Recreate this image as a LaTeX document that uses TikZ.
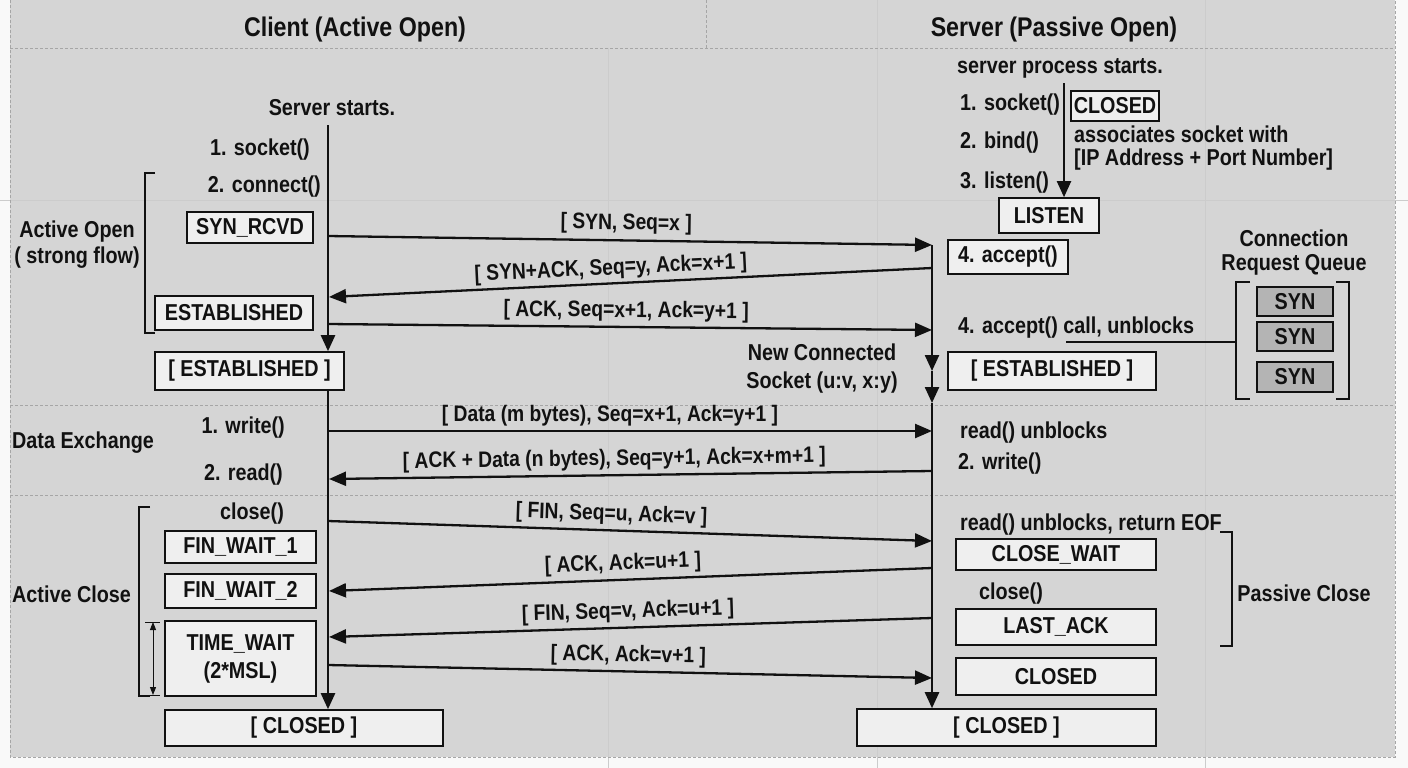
\documentclass[tikz,border=0pt]{standalone}
\usepackage{fontspec}
\setmainfont{Liberation Sans}[FakeStretch=0.86]
\usetikzlibrary{arrows.meta}
\definecolor{panel}{HTML}{D5D5D5}
\definecolor{boxfill}{HTML}{EFEFEF}
\definecolor{synfill}{HTML}{B4B4B4}
\definecolor{dashc}{HTML}{A6A6A6}
\definecolor{gridc}{HTML}{CCCCCC}
\definecolor{ink}{HTML}{111111}
\tikzset{
  txt/.style={font=\fontsize{23}{26}\selectfont\bfseries, inner sep=0pt, text=ink},
  ttl/.style={font=\fontsize{27}{30}\selectfont\bfseries, inner sep=0pt, text=ink},
  lbl/.style={font=\fontsize{22.4}{24}\selectfont\bfseries, inner sep=0pt, text=ink},
  stbox/.style={draw=ink, line width=1.6pt, fill=boxfill, txt, inner sep=0pt},
  synbox/.style={draw=ink, line width=1.6pt, fill=synfill, txt, inner sep=0pt, minimum width=76pt},
  msg/.style={line width=2.3pt, draw=ink, -{Triangle[length=17pt,width=14pt]}},
  life/.style={line width=2.4pt, draw=ink, -{Triangle[length=16pt,width=14pt]}},
  brk/.style={line width=1.6pt, draw=ink},
  sect/.style={dashc, line width=0.8pt, dash pattern=on 3pt off 2pt},
}
\begin{document}
\begin{tikzpicture}[x=1pt,y=-1pt]
\useasboundingbox (0,0) rectangle (1408,768);
% background
\fill[white!95!gray] (0,0) rectangle (1408,768);
\fill[panel] (10,0) rectangle (1395,757);
\draw[gridc, line width=0.8pt] (608,48) -- (608,768) (877,0) -- (877,768) (1205,0) -- (1205,768);
\draw[gridc, line width=0.8pt] (0,200) -- (1408,200);
\draw[sect] (10,0) -- (10,757) -- (1395,757) -- (1395,0);
\draw[sect] (10,48) -- (1395,48);
\draw[sect] (706,0) -- (706,48);
\draw[sect] (10,405) -- (1395,405);
\draw[sect] (10,495) -- (1395,495);

% titles
\node[ttl] (tcl) at (355,30) {Client (Active Open)};
\node[ttl] (tsv) at (1054,30) {Server (Passive Open)};

% ---------- client side ----------
\node[txt] (sstart) at (332,108) {Server starts.};
\node[txt, anchor=east] (csock) at (310,150) {1. socket()};
\node[txt, anchor=east] (cconn) at (321,187) {2. connect()};
\node[stbox, minimum width=126pt, minimum height=31pt] (synrcvd) at (250,227.5) {SYN\_RCVD};
\node[stbox, minimum width=158pt, minimum height=34pt] (est1) at (234,313) {ESTABLISHED};
\node[stbox, minimum width=189pt, minimum height=38pt] (estC) at (249.5,371) {[ ESTABLISHED ]};
\node[txt, align=center] (aopen) at (77,245) {Active Open\\( strong flow)};
\draw[brk] (155,173) -- (145,173) -- (145,333) -- (155,333);

\node[txt, anchor=west] (dex) at (12,443) {Data Exchange};
\node[txt, anchor=east] (cwrite) at (285,428) {1. write()};
\node[txt, anchor=east] (cread) at (283,475) {2. read()};

\node[txt] (cclose) at (252,514) {close()};
\node[stbox, minimum width=151pt, minimum height=32pt] (fw1) at (240.5,547) {FIN\_WAIT\_1};
\node[stbox, minimum width=151pt, minimum height=34pt] (fw2) at (240.5,591) {FIN\_WAIT\_2};
\node[stbox, minimum width=151pt, minimum height=75pt, align=center, font=\fontsize{23}{28}\selectfont\bfseries] (tw) at (240.5,658.5) {TIME\_WAIT\\(2*MSL)};
\node[stbox, minimum width=278pt, minimum height=36pt] (closedC) at (304,728) {[ CLOSED ]};
\node[txt, anchor=west] (aclose) at (12,594) {Active Close};
\draw[brk] (150,507) -- (139,507) -- (139,696) -- (150,696);
\draw[line width=1pt, ink] (145,622) -- (160,622) (145,695) -- (160,695);
\draw[line width=1pt, ink, {Triangle[length=8pt,width=6pt]}-{Triangle[length=8pt,width=6pt]}] (153,622) -- (153,695);

% client lifeline
\coordinate (cl0) at (328,125);
\draw[life] (cl0) -- (estC.north -| cl0);
\draw[life] (estC.south -| cl0) -- (closedC.north -| cl0);

% ---------- server side ----------
\node[txt] (spstart) at (1060,68) {server process starts.};
\node[txt, anchor=west] (ssock) at (960,105) {1. socket()};
\node[txt, anchor=west] (sbind) at (960,143) {2. bind()};
\node[txt, anchor=west] (slisten) at (960,183) {3. listen()};
\node[stbox, minimum width=88pt, minimum height=30pt] (closed0) at (1115,106) {CLOSED};
\node[txt, anchor=west, align=left, font=\fontsize{23}{23}\selectfont\bfseries] (assoc) at (1074,148.5) {associates socket with\\{[IP Address + Port Number]}};
\node[stbox, minimum width=100pt, minimum height=35pt] (listen) at (1049,215.5) {LISTEN};
\coordinate (sp0) at (1064,83);
\draw[life, line width=2pt] (sp0) -- (listen.north -| sp0);
\node[stbox, minimum width=120pt, minimum height=34pt] (accept) at (1008,257) {4. accept()};
\node[txt, anchor=west] (acall) at (958,328) {4. accept() call, unblocks};
\node[stbox, minimum width=208pt, minimum height=38pt] (estS) at (1052,371) {[ ESTABLISHED ]};
\node[txt, align=center, font=\fontsize{23}{28}\selectfont\bfseries] (newsock) at (822,369) {New Connected\\Socket (u:v, x:y)};

\node[txt, align=center, font=\fontsize{23}{24}\selectfont\bfseries] (queue) at (1294,253) {Connection\\Request Queue};
\node[synbox, minimum height=29pt] (syn1) at (1295,301.5) {SYN};
\node[synbox, minimum height=29pt] (syn2) at (1295,336.5) {SYN};
\node[synbox, minimum height=30pt] (syn3) at (1295,377) {SYN};
\draw[brk, line width=1.8pt] (1250,282) -- (1236,282) -- (1236,399) -- (1250,399);
\draw[brk, line width=1.8pt] (1336,282) -- (1349,282) -- (1349,399) -- (1336,399);
\coordinate (qa) at (1066,342);
\coordinate (qb) at (1236,342);
\draw[line width=1.3pt, ink] (qa) -- (qb);

\node[txt, anchor=west] (sread) at (960,433) {read() unblocks};
\node[txt, anchor=west] (swrite) at (958,464) {2. write()};

\node[txt, anchor=west] (seof) at (960,525) {read() unblocks, return EOF};
\node[stbox, minimum width=200pt, minimum height=31pt] (cw) at (1056,554.5) {CLOSE\_WAIT};
\node[txt] (sclose) at (1011,594) {close()};
\node[stbox, minimum width=200pt, minimum height=36pt] (lack) at (1056,627) {LAST\_ACK};
\node[stbox, minimum width=200pt, minimum height=37pt] (closedS) at (1056,676.5) {CLOSED};
\node[stbox, minimum width=299pt, minimum height=37pt] (closedS2) at (1006.5,727.5) {[ CLOSED ]};
\node[txt] (pclose) at (1304,593) {Passive Close};
\draw[brk] (1220,532) -- (1232,532) -- (1232,646) -- (1220,646);

% server lifeline
\coordinate (sl0) at (932,245);
\coordinate (sl1) at (932,371);
\coordinate (sl2) at (932,403);
\draw[life] (sl0) -- (sl1);
\draw[life] (sl1) -- (sl2);
\draw[life] (sl2) -- (closedS2.north -| sl2);

% ---------- messages ----------
\coordinate (c1) at (328,236); \coordinate (s1) at (932,245);
\coordinate (s2) at (932,268); \coordinate (c2) at (329,297);
\coordinate (c3) at (328,324); \coordinate (s3) at (932,330);
\coordinate (c4) at (328,431); \coordinate (s4) at (932,431);
\coordinate (s5) at (932,471); \coordinate (c5) at (329,479);
\coordinate (c6) at (328,521); \coordinate (s6) at (932,541);
\coordinate (s7) at (932,568); \coordinate (c7) at (329,591);
\coordinate (s8) at (932,618); \coordinate (c8) at (329,637);
\coordinate (c9) at (328,665); \coordinate (s9) at (932,678);

\draw[msg] (c1) -- node[lbl, sloped, above=5pt, xshift=-4pt] (m1) {[ SYN, Seq=x ]} (s1);
\draw[msg] (s2) -- node[lbl, sloped, above=3pt, xshift=-19pt] (m2) {[ SYN+ACK, Seq=y, Ack=x+1 ]} (c2);
\draw[msg] (c3) -- node[lbl, sloped, above=4pt, xshift=-4pt] (m3) {[ ACK, Seq=x+1, Ack=y+1 ]} (s3);
\draw[msg] (c4) -- node[lbl, sloped, above=4pt, xshift=-20pt] (m4) {[ Data (m bytes), Seq=x+1, Ack=y+1 ]} (s4);
\draw[msg] (s5) -- node[lbl, sloped, above=4pt, xshift=-16pt] (m5) {[ ACK + Data (n bytes), Seq=y+1, Ack=x+m+1 ]} (c5);
\draw[msg] (c6) -- node[lbl, sloped, above=4pt, xshift=-19pt] (m6) {[ FIN, Seq=u, Ack=v ]} (s6);
\draw[msg] (s7) -- node[lbl, sloped, above=4pt, xshift=-7pt] (m7) {[ ACK, Ack=u+1 ]} (c7);
\draw[msg] (s8) -- node[lbl, sloped, above=4pt, xshift=-2pt] (m8) {[ FIN, Seq=v, Ack=u+1 ]} (c8);
\draw[msg] (c9) -- node[lbl, sloped, above=4pt, xshift=-2pt] (m9) {[ ACK, Ack=v+1 ]} (s9);
\end{tikzpicture}
\end{document}
